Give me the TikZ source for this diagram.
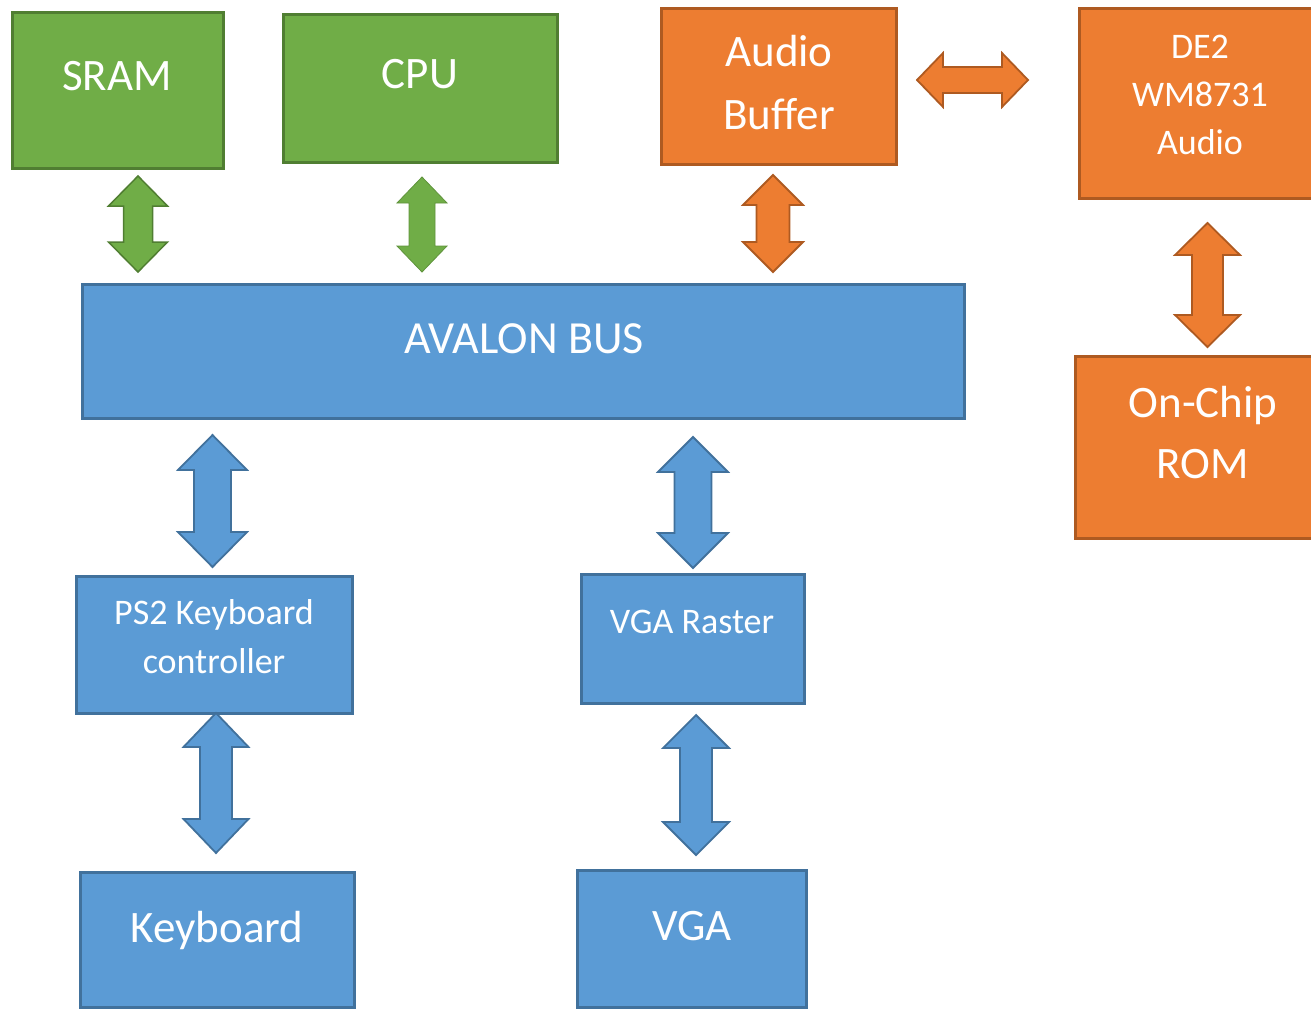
\documentclass[tikz,border=0pt]{standalone}
\usepackage{fontspec}
\setmainfont{Carlito}
\definecolor{gfill}{HTML}{70AD47}
\definecolor{gdraw}{HTML}{507E32}
\definecolor{ofill}{HTML}{ED7D31}
\definecolor{odraw}{HTML}{AE5A21}
\definecolor{bfill}{HTML}{5B9BD5}
\definecolor{bdraw}{HTML}{41719C}
\tikzset{
  box/.style={rectangle, inner sep=0pt, line width=3pt},
  gbox/.style={box, fill=gfill, draw=gdraw},
  obox/.style={box, fill=ofill, draw=odraw},
  bbox/.style={box, fill=bfill, draw=bdraw},
  txt/.style={text=white, anchor=base, align=center, inner sep=0pt},
  big/.style={txt, font=\fontsize{45}{63}\selectfont},
  small/.style={txt, font=\fontsize{36}{48}\selectfont},
  garr/.style={fill=gfill, draw=gdraw, line width=1.5pt, line join=miter},
  garrl/.style={fill=gfill, draw=gfill!85!black, line width=0.8pt, line join=miter},
  oarr/.style={fill=ofill, draw=odraw, line width=1.8pt, line join=miter},
  barr/.style={fill=bfill, draw=bdraw, line width=1.8pt, line join=miter},
}
% vertical double block arrow: style, cx, ytop, ybot, W, w, h
\newcommand{\vdarrow}[7]{%
  \path[#1] (#2,#3) -- ({#2+#5/2},{#3+#7}) -- ({#2+#6/2},{#3+#7}) --
    ({#2+#6/2},{#4-#7}) -- ({#2+#5/2},{#4-#7}) -- (#2,#4) --
    ({#2-#5/2},{#4-#7}) -- ({#2-#6/2},{#4-#7}) -- ({#2-#6/2},{#3+#7}) --
    ({#2-#5/2},{#3+#7}) -- cycle;}
% horizontal double block arrow: style, cy, xleft, xright, H, h, l
\newcommand{\hdarrow}[7]{%
  \path[#1] (#3,#2) -- ({#3+#7},{#2-#5/2}) -- ({#3+#7},{#2-#6/2}) --
    ({#4-#7},{#2-#6/2}) -- ({#4-#7},{#2-#5/2}) -- (#4,#2) --
    ({#4-#7},{#2+#5/2}) -- ({#4-#7},{#2+#6/2}) -- ({#3+#7},{#2+#6/2}) --
    ({#3+#7},{#2+#5/2}) -- cycle;}
\begin{document}
\begin{tikzpicture}[x=1pt, y=-1pt]
\useasboundingbox (0,0) rectangle (1311,1010);
\clip (0,0) rectangle (1311,1010);
% boxes
\node[gbox, minimum width=211pt, minimum height=156pt] (sram) at (117.5,90) {};
\node[gbox, minimum width=274pt, minimum height=148pt] (cpu) at (420,88) {};
\node[obox, minimum width=235pt, minimum height=156pt] (abuf) at (778.5,86) {};
\node[obox, minimum width=241pt, minimum height=190pt] (de2) at (1199.5,103) {};
\node[obox, minimum width=245pt, minimum height=182pt] (rom) at (1197.5,447) {};
\node[bbox, minimum width=882pt, minimum height=134pt] (bus) at (523,351) {};
\node[bbox, minimum width=276pt, minimum height=137pt] (ps2) at (214,644.5) {};
\node[bbox, minimum width=223pt, minimum height=129pt] (vgar) at (692.5,638.5) {};
\node[bbox, minimum width=274pt, minimum height=135pt] (kbd) at (217,939.5) {};
\node[bbox, minimum width=229pt, minimum height=137pt] (vga) at (691.5,938.5) {};
% texts (base anchor = baseline of last line)
\node[big] (t-sram) at (117,90) {SRAM};
\node[big] (t-cpu) at (420,88) {CPU};
\node[big] (t-abuf) at (779,129) {Audio\\Buffer};
\node[small] (t-de2) at (1200,154) {DE2\\WM8731\\Audio};
\node[big, font=\fontsize{45}{61}\selectfont] (t-rom) at (1203,478) {On-Chip\\ROM};
\node[big, font=\fontsize{46}{63}\selectfont] (t-bus) at (524,353) {AVALON BUS};
\node[small, font=\fontsize{36}{49}\selectfont] (t-ps2) at (214,673) {PS2 Keyboard\\controller};
\node[small] (t-vgar) at (692,633) {VGA Raster};
\node[big] (t-kbd) at (217,942) {Keyboard};
\node[big] (t-vga) at (692,940) {VGA};
% block arrows
\vdarrow{garr}{138}{176}{272}{59}{29}{30}
\vdarrow{garrl}{422}{177}{272}{50}{26}{26}
\vdarrow{oarr}{773}{175}{272}{60}{33}{30}
\hdarrow{oarr}{80}{917}{1028}{54}{26}{26}
\vdarrow{oarr}{1207.5}{223}{347}{65}{31}{32}
\vdarrow{barr}{212.5}{435}{567}{69}{37}{35}
\vdarrow{barr}{693}{437}{568}{70}{37}{35}
\vdarrow{barr}{216}{713}{853}{65}{32}{34}
\vdarrow{barr}{696}{715}{855}{66}{32}{33}
\end{tikzpicture}
\end{document}
